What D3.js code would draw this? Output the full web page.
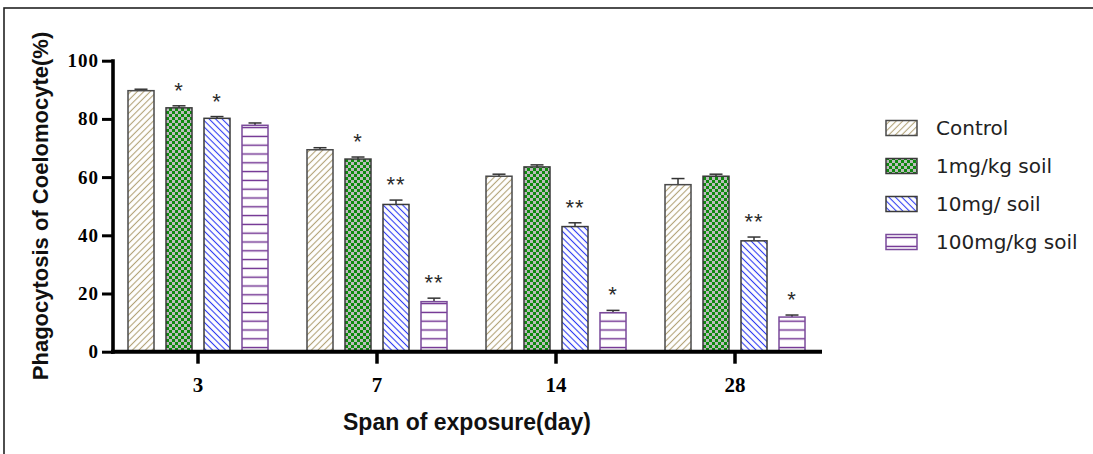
<!DOCTYPE html>
<html>
<head>
<meta charset="utf-8">
<script src="https://cdn.jsdelivr.net/npm/d3@7"></script>
<style>
  body { margin: 0; background: #fff; }
</style>
</head>
<body>
<div class="stage"></div>
<script>
// chart data
var days = ["3", "7", "14", "28"];
var series = ["Control", "1mg/kg soil", "10mg/ soil", "100mg/kg soil"];
var control = [89.7, 69.4, 60.3, 57.4];
var mg1 = [83.8, 66.2, 63.5, 60.3];
var mg10 = [80.2, 50.6, 43.0, 38.1];
var mg100 = [77.8, 17.2, 13.4, 11.9];
var errControl = [0.5, 0.7, 0.7, 2.1];
var err1 = [0.7, 0.7, 0.7, 0.7];
var err10 = [0.6, 1.5, 1.3, 1.3];
var err100 = [0.8, 1.2, 0.8, 0.7];
var sigControl = ["", "", "", ""];
var sig1 = ["*", "*", "", ""];
var sig10 = ["*", "**", "**", "**"];
var sig100 = ["", "**", "*", "*"];
var yTicks = [0, 20, 40, 60, 80, 100];

var width = 1093, height = 454;

var svg = d3.select(".stage").append("svg")
  .attr("width", width)
  .attr("height", height);

// frame of the original figure
svg.append("rect")
  .attr("x", 4).attr("y", 8)
  .attr("width", 1200).attr("height", 600)
  .attr("fill", "none")
  .attr("stroke", "#222")
  .attr("stroke-width", 1.6);

// fill patterns (hatches drawn as vertical lines, then rotated)
var defs = svg.append("defs");

function hatch(id, angle, color, size, sw) {
  var p = defs.append("pattern")
    .attr("id", id)
    .attr("patternUnits", "userSpaceOnUse")
    .attr("width", size).attr("height", size)
    .attr("patternTransform", "rotate(" + angle + ")");
  p.append("rect").attr("width", size).attr("height", size).attr("fill", "#fff");
  p.append("line")
    .attr("x1", size / 2).attr("x2", size / 2)
    .attr("y1", 0).attr("y2", size)
    .attr("stroke", color).attr("stroke-width", sw);
}
hatch("pControl", 45, "#b3a378", 4.6, 1.1);
hatch("p10mg", -45, "#2f3cf2", 4.6, 1.1);
hatch("p100mg", 90, "#6b2a8e", 8.8, 1.4);

var p2 = defs.append("pattern")
  .attr("id", "p1mg")
  .attr("patternUnits", "userSpaceOnUse")
  .attr("width", 6).attr("height", 6);
p2.append("rect").attr("width", 6).attr("height", 6).attr("fill", "#0f8a0f");
p2.append("rect").attr("x", 0).attr("y", 0).attr("width", 3).attr("height", 3).attr("fill", "#bcbcbc");
p2.append("rect").attr("x", 3).attr("y", 3).attr("width", 3).attr("height", 3).attr("fill", "#bcbcbc");

var fills = ["url(#pControl)", "url(#p1mg)", "url(#p10mg)", "url(#p100mg)"];
var borders = ["#4a4a4a", "#3a3a3a", "#3a3a3a", "#7a4a9a"];

// scales
var x0 = d3.scaleBand()
  .domain(days)
  .range([108.5, 824.5]);

var x1 = d3.scaleBand()
  .domain(series)
  .range([0, x0.bandwidth()])
  .paddingInner(0.32)
  .paddingOuter(0.5);

var y = d3.scaleLinear()
  .domain([0, 100])
  .range([351.7, 60.7]);

// flatten into bar records
var vals = [control, mg1, mg10, mg100];
var errs = [errControl, err1, err10, err100];
var sigs = [sigControl, sig1, sig10, sig100];
var bars = [];
days.forEach(function(d, i) {
  series.forEach(function(s, j) {
    bars.push({day: d, key: s, k: j, v: vals[j][i], e: errs[j][i], sig: sigs[j][i]});
  });
});

var bw = x1.bandwidth();
var groups = svg.selectAll(".bar")
  .data(bars)
  .enter().append("g")
  .attr("class", "bar")
  .attr("transform", function(d) { return "translate(" + Math.round(x0(d.day) + x1(d.key)) + ",0)"; });

// error bars first so the bar top covers the stem
groups.append("line")
  .attr("x1", bw / 2).attr("x2", bw / 2)
  .attr("y1", function(d) { return y(d.v); })
  .attr("y2", function(d) { return y(d.v + d.e); })
  .attr("stroke", "#333").attr("stroke-width", 1.5);
groups.append("line")
  .attr("x1", bw / 2 - 6.5).attr("x2", bw / 2 + 6.5)
  .attr("y1", function(d) { return y(d.v + d.e); })
  .attr("y2", function(d) { return y(d.v + d.e); })
  .attr("stroke", "#333").attr("stroke-width", 1.5);

groups.append("rect")
  .attr("x", 0)
  .attr("y", function(d) { return y(d.v); })
  .attr("width", bw)
  .attr("height", function(d) { return y(0) - y(d.v); })
  .attr("fill", function(d) { return fills[d.k]; })
  .attr("stroke", function(d) { return borders[d.k]; })
  .attr("stroke-width", 1.5);

// significance stars
groups.append("text")
  .attr("x", bw / 2)
  .attr("y", function(d) { return y(d.v + d.e) - 8; })
  .attr("text-anchor", "middle")
  .attr("font-family", "Liberation Sans, Arial, sans-serif")
  .attr("font-size", "22px")
  .attr("letter-spacing", "1px")
  .attr("fill", "#2a2a2a")
  .text(function(d) { return d.sig; });

// y axis
var yAxis = svg.append("g")
  .attr("transform", "translate(113,0)")
  .call(d3.axisLeft(y).tickValues(yTicks).tickSize(11).tickPadding(3).tickSizeOuter(0));
yAxis.select(".domain")
  .attr("stroke", "#000").attr("stroke-width", 3.6)
  .attr("d", "M0," + (y(100) - 1.5) + "V" + (y(0) + 2));
yAxis.selectAll(".tick line").attr("stroke", "#000").attr("stroke-width", 3);
yAxis.selectAll(".tick text")
  .attr("font-family", "Liberation Serif, Times New Roman, serif")
  .attr("font-weight", "bold")
  .attr("font-size", "19px")
  .attr("letter-spacing", "1px")
  .attr("fill", "#000");

// x axis
var xAxis = svg.append("g")
  .attr("transform", "translate(0," + y(0) + ")")
  .call(d3.axisBottom(x0).tickSize(12).tickSizeOuter(0));
xAxis.select(".domain")
  .attr("stroke", "#000").attr("stroke-width", 4)
  .attr("d", "M111,0H822");
xAxis.selectAll(".tick line").attr("stroke", "#000").attr("stroke-width", 3.5);
xAxis.selectAll(".tick text")
  .attr("y", 25)
  .attr("font-family", "Liberation Serif, Times New Roman, serif")
  .attr("font-weight", "bold")
  .attr("font-size", "21px")
  .attr("fill", "#000");

// axis titles
svg.append("text")
  .attr("transform", "translate(48,206) rotate(-90)")
  .attr("text-anchor", "middle")
  .attr("font-family", "Liberation Sans, Arial, sans-serif")
  .attr("font-weight", "bold")
  .attr("font-size", "22px")
  .attr("fill", "#111")
  .text("Phagocytosis of Coelomocyte(%)");

svg.append("text")
  .attr("x", 467)
  .attr("y", 430)
  .attr("text-anchor", "middle")
  .attr("font-family", "Liberation Sans, Arial, sans-serif")
  .attr("font-weight", "bold")
  .attr("font-size", "23px")
  .attr("fill", "#111")
  .text("Span of exposure(day)");

// legend
var legend = svg.selectAll(".legend")
  .data(series)
  .enter().append("g")
  .attr("class", "legend")
  .attr("transform", function(d, i) { return "translate(886," + (128 + i * 38) + ")"; });

legend.append("rect")
  .attr("x", 0).attr("y", -7.5)
  .attr("width", 31).attr("height", 15)
  .attr("fill", function(d, i) { return fills[i]; })
  .attr("stroke", function(d, i) { return borders[i]; })
  .attr("stroke-width", 1.5);

legend.append("text")
  .attr("x", 50)
  .attr("y", 7)
  .attr("font-family", "DejaVu Sans, sans-serif")
  .attr("font-size", "20px")
  .attr("fill", "#222")
  .text(function(d) { return d; });
</script>
</body>
</html>
